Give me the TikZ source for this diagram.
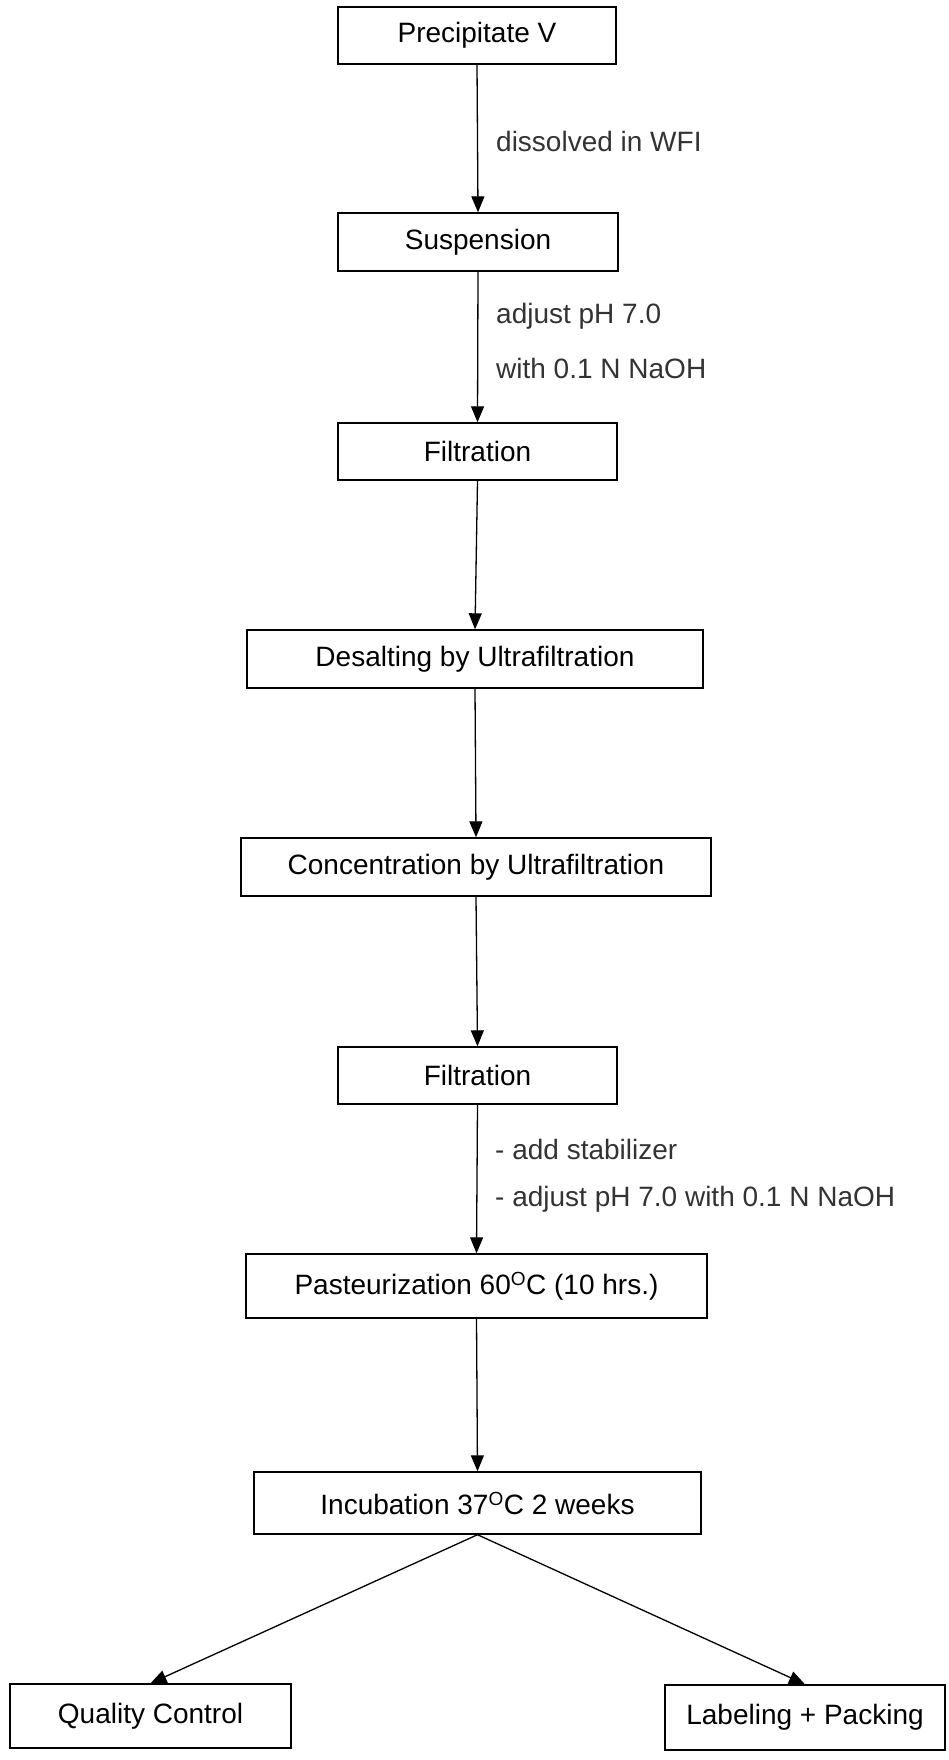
\documentclass[tikz,border=0pt]{standalone}
\usepackage{fontspec}
\setmainfont{Liberation Sans}
\usetikzlibrary{arrows.meta}
\begin{document}
\begin{tikzpicture}[x=1pt,y=1pt,
  box/.style={draw=black, line width=1.4pt, inner sep=0pt, align=center,
    font=\fontsize{28}{32}\selectfont, text=black},
  lbl/.style={anchor=west, inner sep=0pt, font=\fontsize{28}{32}\selectfont, text=black!80},
  flow/.style={line width=1.3pt, -{Triangle[length=16pt,width=13pt]}},
]
\useasboundingbox (0,0) rectangle (948,-1760);
\newcommand{\degO}{\textsuperscript{\fontsize{19}{19}\selectfont O}}
\node[box, minimum width=278, minimum height=57] (p1) at (477,-35.5) {Precipitate V};
\node[box, minimum width=280, minimum height=58] (p2) at (478,-242) {Suspension};
\node[box, minimum width=279, minimum height=57] (p3) at (477.5,-451.5) {Filtration};
\node[box, minimum width=456, minimum height=58] (p4) at (475,-659) {Desalting by Ultrafiltration};
\node[box, minimum width=470, minimum height=58] (p5) at (476,-867) {Concentration by Ultrafiltration};
\node[box, minimum width=279, minimum height=57] (p6) at (477.5,-1075.5) {Filtration};
\node[box, minimum width=461, minimum height=64] (p7) at (476.5,-1286) {Pasteurization 60\degO C (10 hrs.)};
\node[box, minimum width=447, minimum height=62] (p8) at (477.5,-1503) {Incubation 37\degO C 2 weeks};
\node[box, minimum width=281, minimum height=64] (q1) at (150.5,-1716) {Quality Control};
\node[box, minimum width=280, minimum height=65] (q2) at (805,-1717.5) {Labeling + Packing};

\node[lbl] (l1) at (496,-141) {dissolved in WFI};
\node[lbl] (l2) at (496,-316) {adjust pH 7.0};
\node[lbl] (l3) at (496,-368) {with 0.1 N NaOH};
\node[lbl] (l4) at (495,-1149) {- add stabilizer};
\node[lbl] (l5) at (495,-1199) {- adjust pH 7.0 with 0.1 N NaOH};

\draw[flow] (p1.south) -- (p2.north);
\draw[flow] (p2.south) -- (p3.north);
\draw[flow] (p3.south) -- (p4.north);
\draw[flow] (p4.south) -- (p5.north);
\draw[flow] (p5.south) -- (p6.north);
\draw[flow] (p6.south) -- (p7.north);
\draw[flow] (p7.south) -- (p8.north);
\draw[flow] (p8.south) -- (q1.north);
\draw[flow] (p8.south) -- (q2.north);
\end{tikzpicture}
\end{document}
